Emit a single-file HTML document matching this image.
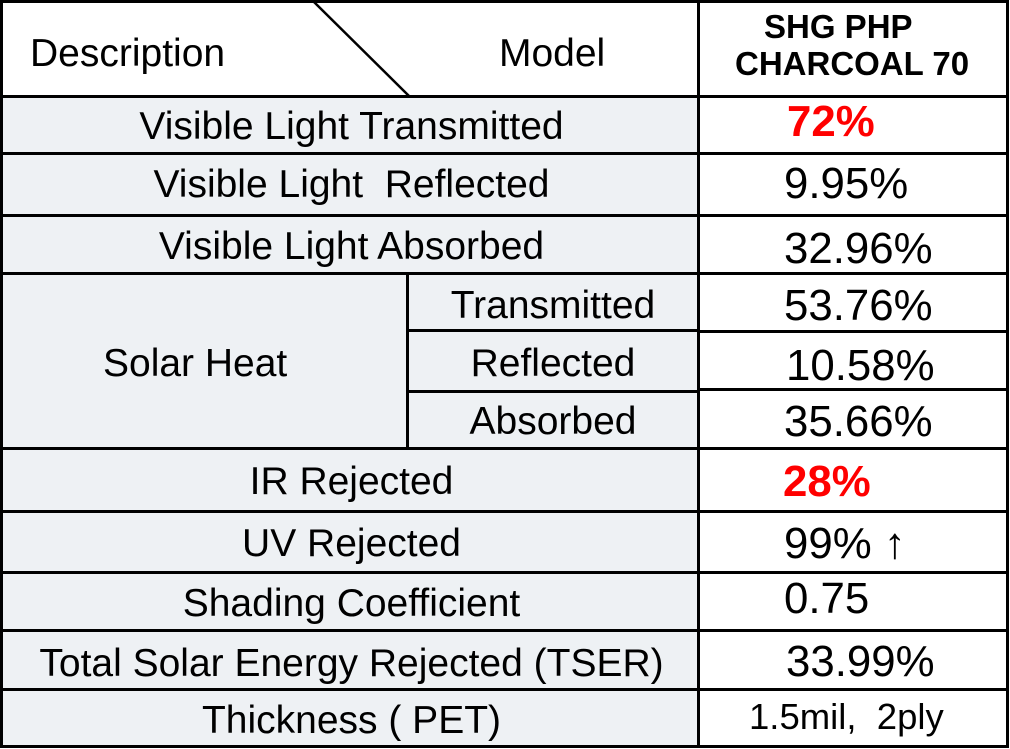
<!DOCTYPE html>
<html>
<head>
<meta charset="utf-8">
<style>
html,body{margin:0;padding:0;background:#fff;}
#c{position:relative;width:1010px;height:749px;overflow:hidden;background:#fff;font-family:"Liberation Sans",Arial,sans-serif;color:#000;}
.bg{position:absolute;background:#eef1f4;}
.h{position:absolute;height:3px;background:#000;}
.v{position:absolute;width:3px;background:#000;}
.t{position:absolute;white-space:pre;line-height:1;font-size:39px;}
.c{text-align:center;}
.val{position:absolute;white-space:pre;line-height:1;font-size:43.8px;left:784px;}
.red{color:#f00;font-weight:bold;}
.hd{position:absolute;white-space:pre;line-height:1;font-size:33px;font-weight:bold;}
</style>
</head>
<body>
<div id="c">
  <div class="bg" style="left:3px;top:98px;width:694px;height:647px;"></div>

  <div class="h" style="left:0;top:0;width:1009px;"></div>
  <div class="h" style="left:0;top:95px;width:1009px;"></div>
  <div class="h" style="left:0;top:152px;width:1009px;"></div>
  <div class="h" style="left:0;top:214px;width:1009px;"></div>
  <div class="h" style="left:0;top:272px;width:1009px;"></div>
  <div class="h" style="left:406px;top:329px;width:293px;"></div>
  <div class="h" style="left:406px;top:390px;width:293px;"></div>
  <div class="h" style="left:697px;top:330px;width:312px;"></div>
  <div class="h" style="left:697px;top:388px;width:312px;"></div>
  <div class="h" style="left:0;top:447px;width:1009px;"></div>
  <div class="h" style="left:0;top:510px;width:1009px;"></div>
  <div class="h" style="left:0;top:571px;width:1009px;"></div>
  <div class="h" style="left:0;top:629px;width:1009px;"></div>
  <div class="h" style="left:0;top:688px;width:1009px;"></div>
  <div class="h" style="left:0;top:745px;width:1009px;"></div>

  <div class="v" style="left:0;top:0;height:748px;"></div>
  <div class="v" style="left:697px;top:0;height:748px;"></div>
  <div class="v" style="left:1006px;top:0;height:748px;"></div>
  <div class="v" style="left:406px;top:272px;height:178px;"></div>

  <svg style="position:absolute;left:0;top:0;" width="1010" height="100">
    <line x1="313" y1="1" x2="409" y2="96" stroke="#000" stroke-width="2.5"/>
  </svg>

  <div class="t" style="left:30px;top:34px;">Description</div>
  <div class="t" style="left:499px;top:34px;">Model</div>
  <div class="hd" style="left:764px;top:10px;">SHG PHP</div>
  <div class="hd" style="left:735px;top:47px;">CHARCOAL 70</div>

  <div class="t c" style="left:3px;width:697px;top:107px;">Visible Light Transmitted</div>
  <div class="t c" style="left:3px;width:697px;top:165px;">Visible Light  Reflected</div>
  <div class="t c" style="left:3px;width:697px;top:227px;">Visible Light Absorbed</div>
  <div class="t" style="left:103px;top:344px;">Solar Heat</div>
  <div class="t c" style="left:409px;width:288px;top:286px;">Transmitted</div>
  <div class="t c" style="left:409px;width:288px;top:344px;">Reflected</div>
  <div class="t c" style="left:409px;width:288px;top:402px;">Absorbed</div>
  <div class="t c" style="left:3px;width:697px;top:462px;">IR Rejected</div>
  <div class="t c" style="left:3px;width:697px;top:524px;">UV Rejected</div>
  <div class="t c" style="left:3px;width:697px;top:584px;">Shading Coefficient</div>
  <div class="t c" style="left:3px;width:697px;top:644px;">Total Solar Energy Rejected (TSER)</div>
  <div class="t c" style="left:3px;width:697px;top:701px;">Thickness ( PET)</div>

  <div class="val red" style="left:787px;top:100px;">72%</div>
  <div class="val" style="top:162px;">9.95%</div>
  <div class="val" style="top:227px;">32.96%</div>
  <div class="val" style="top:284px;">53.76%</div>
  <div class="val" style="left:786px;top:344px;">10.58%</div>
  <div class="val" style="top:400px;">35.66%</div>
  <div class="val red" style="left:783px;top:460px;">28%</div>
  <div class="val" style="top:522px;">99% ↑</div>
  <div class="val" style="top:577px;">0.75</div>
  <div class="val" style="left:786px;top:640px;">33.99%</div>
  <div class="val" style="left:749px;top:699px;font-size:36.5px;">1.5mil,  2ply</div>
</div>
</body>
</html>
